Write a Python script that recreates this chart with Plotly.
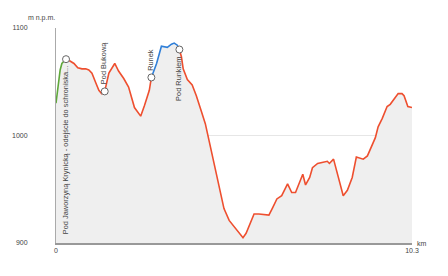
import plotly.graph_objects as go

km = [0.0, 0.06, 0.12, 0.17, 0.29, 0.37, 0.52, 0.63, 0.75, 0.86, 0.95, 1.04, 1.15, 1.24, 1.32, 1.41,
      1.53, 1.70, 1.81, 1.96, 2.10, 2.27, 2.45, 2.56, 2.70, 2.76, 2.91, 3.05, 3.22, 3.34, 3.42, 3.51,
      3.57, 3.63, 3.68, 3.80, 3.94, 4.06, 4.20, 4.32, 4.43, 4.57, 4.72, 4.86, 5.01, 5.21, 5.41, 5.50,
      5.61, 5.73, 5.87, 6.16, 6.27, 6.39, 6.53, 6.70, 6.82, 6.93, 7.14, 7.22, 7.34, 7.42, 7.57, 7.85,
      7.91, 8.03, 8.17, 8.31, 8.43, 8.57, 8.69, 8.89, 9.01, 9.24, 9.32, 9.44, 9.58, 9.67, 9.90, 10.01,
      10.07, 10.18, 10.3]
elev = [1030, 1048, 1061, 1067, 1071, 1070, 1067, 1063, 1062, 1062, 1061, 1058, 1049, 1042, 1039, 1041,
        1058, 1067, 1060, 1053, 1045, 1026, 1018, 1028, 1042, 1054, 1067, 1083, 1082, 1085, 1086, 1084,
        1080, 1073, 1062, 1052, 1047, 1037, 1023, 1011, 995, 974, 952, 932, 921, 913, 905, 909,
        918, 927, 927, 926, 933, 941, 944, 955, 947, 947, 964, 954, 961, 970, 974, 976,
        974, 978, 961, 944, 949, 961, 980, 978, 981, 998, 1008, 1016, 1027, 1029, 1039, 1039,
        1037, 1027, 1026]

waypoint_names = ["Pod Jaworzyną Krynicką - odejście do schroniska...", "Pod Bukową", "Runek", "Pod Runkiem"]
waypoint_idx = [4, 15, 25, 32]
label_below = [True, False, False, True]
segment_colors = ["#5fa83a", "#ee4f2f", "#ee4f2f", "#2f7fd8", "#ee4f2f"]

y_ticks = [900, 1000, 1100]
x_ticks = [0, 10.3]
x_ticktext = ["0", "10.3"]

FONT = "Liberation Sans, Arial, sans-serif"
TXT = "#444444"

fig = go.Figure()
fig.add_trace(go.Scatter(x=km, y=elev, mode="lines", fill="tozeroy", fillcolor="#efefef",
                         line=dict(width=0, color="#efefef"), hoverinfo="skip", showlegend=False))

bounds = [0] + waypoint_idx + [len(km) - 1]
for s in range(len(bounds) - 1):
    a, b = bounds[s], bounds[s + 1]
    fig.add_trace(go.Scatter(x=km[a:b + 1], y=elev[a:b + 1], mode="lines",
                             line=dict(color=segment_colors[s], width=1.6), showlegend=False))

fig.add_trace(go.Scatter(x=[km[i] for i in waypoint_idx], y=[elev[i] for i in waypoint_idx],
                         mode="markers", marker=dict(size=7, color="white", line=dict(color="#666666", width=1)),
                         showlegend=False))

for name, i, below in zip(waypoint_names, waypoint_idx, label_below):
    fig.add_annotation(x=km[i], y=elev[i], text=name, textangle=-90, showarrow=False,
                       xanchor="center", yanchor="top" if below else "bottom",
                       yshift=-5 if below else 5, xshift=-1,
                       font=dict(family=FONT, size=7.4, color=TXT))

fig.add_annotation(xref="paper", yref="paper", x=-0.04, y=1.0, yshift=4, text="m n.p.m.",
                   showarrow=False, xanchor="center", yanchor="bottom",
                   font=dict(family=FONT, size=7, color=TXT))
fig.add_annotation(xref="paper", yref="paper", x=1.0, y=0, xshift=3, text="km",
                   showarrow=False, xanchor="left", yanchor="middle",
                   font=dict(family=FONT, size=7, color=TXT))

fig.update_layout(
    width=448, height=276,
    margin=dict(l=54, r=36, t=28, b=33),
    plot_bgcolor="white", paper_bgcolor="white",
    font=dict(family=FONT, size=7, color=TXT),
    xaxis=dict(range=[0, 10.3], tickvals=x_ticks, ticktext=x_ticktext, showgrid=True,
               gridcolor="#e6e6e6", gridwidth=1, zeroline=False, showline=True,
               linecolor="#999999", linewidth=2, ticks="", fixedrange=True),
    yaxis=dict(range=[900, 1100], tickvals=y_ticks, showgrid=True, gridcolor="#e6e6e6",
               gridwidth=1, zeroline=False, showline=True, linecolor="#aaaaaa", linewidth=1,
               ticks="", ticklabelstandoff=26, fixedrange=True),
)

fig.write_html("out.html")
